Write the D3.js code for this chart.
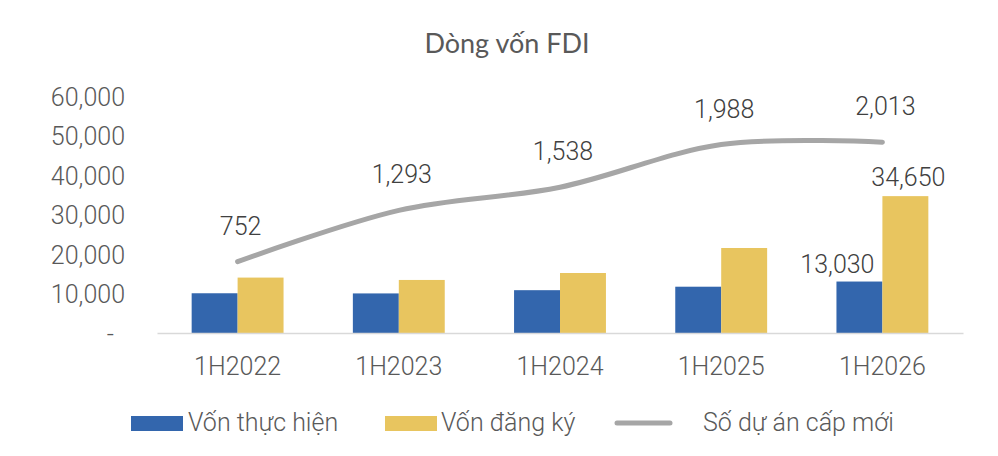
<!DOCTYPE html>
<html>
<head>
<meta charset="utf-8">
<script src="https://cdn.jsdelivr.net/npm/d3@7"></script>
<style>
    body { margin: 0; background: #ffffff; }
    svg text { font-family: Roboto, "Liberation Sans", Arial, sans-serif; font-weight: 300; }
</style>
</head>
<body>
<div id="chart"></div>
<script>
// data
const periods = ["1H2022", "1H2023", "1H2024", "1H2025", "1H2026"];
const vonThucHien = [10060, 10020, 10840, 11720, 13030];
const vonDangKy = [14030, 13430, 15190, 21520, 34650];
const soDuAn = [752, 1293, 1538, 1988, 2013];
const yTicks = [0, 10000, 20000, 30000, 40000, 50000, 60000];
const seriesNames = ["Vốn thực hiện", "Vốn đăng ký", "Số dự án cấp mới"];

const width = 998, height = 456;
const margin = {top: 96, right: 35, bottom: 123, left: 157};
const colors = {blue: "#3366ad", yellow: "#e8c55f", line: "#a6a6a6"};
const fontSize = "25px";

let svg = d3.select("#chart").append("svg")
    .attr("width", width)
    .attr("height", height);

// title
svg.append("text")
    .attr("x", 507)
    .attr("y", 53)
    .attr("text-anchor", "middle")
    .attr("fill", "#595959")
    .style("font-family", "Lato, 'Open Sans', sans-serif")
    .style("font-weight", 400)
    .style("font-size", "27px")
    .text("Dòng vốn FDI");

let x = d3.scaleBand()
    .domain(periods)
    .range([margin.left, width - margin.right]);

let y = d3.scaleLinear()
    .domain([0, 60000])
    .range([height - margin.bottom, margin.top]);

// secondary axis (hidden) for the project count line
let y2 = d3.scaleLinear()
    .domain([0, 2500])
    .range([height - margin.bottom, margin.top]);

const barWidth = x.bandwidth() * 0.285;

// y axis labels
let yAxis = svg.append("g")
    .attr("transform", `translate(${margin.left - 32}, 0)`)
    .call(d3.axisLeft(y).tickValues(yTicks).tickSize(0)
        .tickFormat(d => d === 0 ? "-" : d3.format(",")(d)));
yAxis.select(".domain").remove();
yAxis.selectAll("text")
    .attr("x", d => d === 0 ? -11 : 0)
    .attr("dy", "0.36em")
    .attr("fill", "#595959")
    .style("font-size", fontSize);

// bars
let groups = svg.selectAll(".period")
    .data(periods)
    .enter()
    .append("g")
    .attr("class", "period");

groups.append("rect")
    .attr("x", d => x(d) + x.bandwidth() / 2 - barWidth)
    .attr("y", (d, i) => y(vonThucHien[i]))
    .attr("width", barWidth)
    .attr("height", (d, i) => y(0) - y(vonThucHien[i]))
    .attr("fill", colors.blue);

groups.append("rect")
    .attr("x", d => x(d) + x.bandwidth() / 2)
    .attr("y", (d, i) => y(vonDangKy[i]))
    .attr("width", barWidth)
    .attr("height", (d, i) => y(0) - y(vonDangKy[i]))
    .attr("fill", colors.yellow);

// x axis
let xAxis = svg.append("g")
    .attr("transform", `translate(0, ${y(0)})`)
    .call(d3.axisBottom(x).tickSize(0).tickPadding(0));
xAxis.select(".domain")
    .attr("stroke", "#d9d9d9")
    .attr("stroke-width", 1.5);
xAxis.selectAll("text")
    .attr("y", 42)
    .attr("dy", 0)
    .attr("fill", "#595959")
    .style("font-size", fontSize);

// smoothed project line
let lineGen = d3.line()
    .x((d, i) => x(periods[i]) + x.bandwidth() / 2)
    .y(d => y2(d))
    .curve(d3.curveCardinal.tension(0));

svg.append("path")
    .datum(soDuAn)
    .attr("d", lineGen)
    .attr("fill", "none")
    .attr("stroke", colors.line)
    .attr("stroke-width", 5)
    .attr("stroke-linecap", "round");

// line labels
svg.selectAll(".lineLabel")
    .data(soDuAn)
    .enter()
    .append("text")
    .attr("class", "lineLabel")
    .attr("x", (d, i) => x(periods[i]) + x.bandwidth() / 2 + 3)
    .attr("y", d => y2(d) - 27)
    .attr("text-anchor", "middle")
    .attr("fill", "#404040")
    .style("font-size", fontSize)
    .text(d => d3.format(",")(d));

// labels on the last period bars only
const last = periods.length - 1;
const cLast = x(periods[last]) + x.bandwidth() / 2;
svg.append("text")
    .attr("x", cLast - barWidth / 2 - 22)
    .attr("y", y(vonThucHien[last]) - 9)
    .attr("text-anchor", "middle")
    .attr("fill", "#404040")
    .style("font-size", fontSize)
    .text(d3.format(",")(vonThucHien[last]));
svg.append("text")
    .attr("x", cLast + barWidth / 2 + 3)
    .attr("y", y(vonDangKy[last]) - 10)
    .attr("text-anchor", "middle")
    .attr("fill", "#404040")
    .style("font-size", fontSize)
    .text(d3.format(",")(vonDangKy[last]));

// legend
let legend = svg.append("g").attr("class", "legend");
legend.append("rect")
    .attr("x", 131).attr("y", 416)
    .attr("width", 52).attr("height", 15)
    .attr("fill", colors.blue);
legend.append("text")
    .attr("x", 188).attr("y", 431)
    .attr("fill", "#595959")
    .style("font-size", fontSize)
    .text(seriesNames[0]);
legend.append("rect")
    .attr("x", 385).attr("y", 416)
    .attr("width", 52).attr("height", 15)
    .attr("fill", colors.yellow);
legend.append("text")
    .attr("x", 441).attr("y", 431)
    .attr("fill", "#595959")
    .style("font-size", fontSize)
    .text(seriesNames[1]);
legend.append("line")
    .attr("x1", 617).attr("x2", 670)
    .attr("y1", 423).attr("y2", 423)
    .attr("stroke", colors.line)
    .attr("stroke-width", 5)
    .attr("stroke-linecap", "round");
legend.append("text")
    .attr("x", 703).attr("y", 431)
    .attr("fill", "#595959")
    .style("font-size", fontSize)
    .text(seriesNames[2]);
</script>
</body>
</html>
